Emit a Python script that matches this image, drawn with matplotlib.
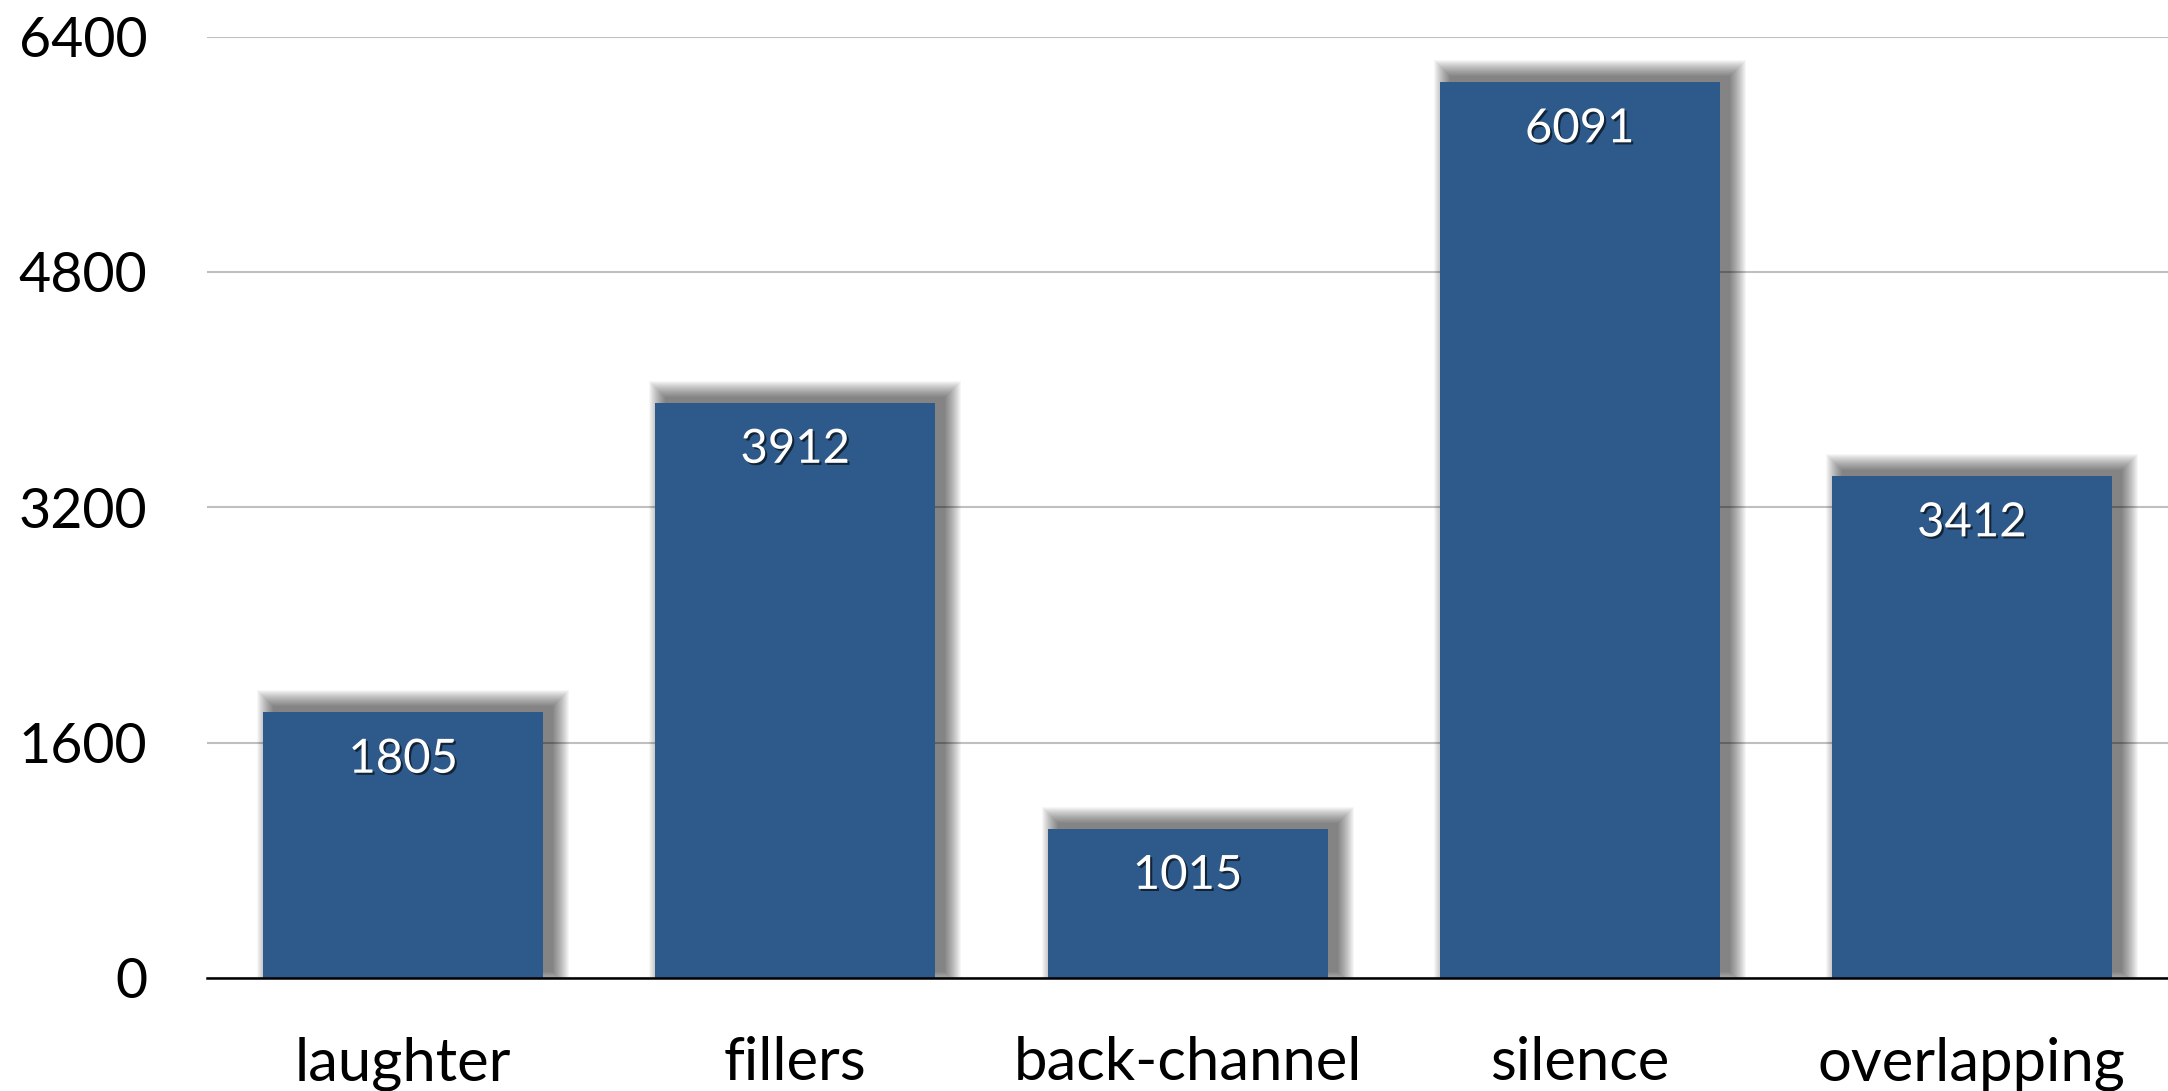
import numpy as np
import matplotlib.pyplot as plt
import matplotlib.patheffects as pe

categories = ['laughter', 'fillers', 'back-channel', 'silence', 'overlapping']
counts = np.array([1805, 3912, 1015, 6091, 3412])
yticks = [0, 1600, 3200, 4800, 6400]

plt.rcParams['font.family'] = ['Lato', 'DejaVu Sans']

fig = plt.figure(figsize=(21.68, 10.91), dpi=100)
ax = fig.add_axes([0.0955, 0.1036, 0.9045, 0.8628])

x = np.arange(len(categories))
w = 0.714
bar_color = '#2E5A8B'

ax.set_xlim(-0.5, 4.5)
ax.set_ylim(0, 6400)

# pixel sizes in data units, for the soft shadow
px = 5.0 / (0.9045 * 2168)
py = 6400 / (0.8628 * 1091)

# blurred drop shadow: stacked translucent rectangles, offset right and up
dx, dy = 10, 6
for s in np.linspace(16, 0, 17):
    ax.bar(x + dx * px, counts + 2 * s * py, width=w + 2 * s * px,
           bottom=dy * py - s * py, color='black', alpha=0.036,
           linewidth=0, zorder=1)

ax.bar(x, counts, width=w, color=bar_color, linewidth=0, zorder=2)

for xi, v in zip(x, counts):
    ax.annotate(str(v), (xi, v), xytext=(0, -34), textcoords='offset points',
                ha='center', va='center', color='white', fontsize=34, zorder=3,
                path_effects=[pe.SimplePatchShadow(offset=(1.5, -1.5), shadow_rgbFace='black', alpha=0.6),
                              pe.Normal()])

ax.set_yticks(yticks)
ax.set_yticklabels([str(t) for t in yticks], fontsize=40)
ax.set_xticks(x)
ax.set_xticklabels(categories, fontsize=43)
ax.tick_params(axis='both', length=0)
ax.tick_params(axis='y', pad=43)
ax.tick_params(axis='x', pad=42)

ax.grid(axis='y', color='#BFBFBF', linewidth=1.5, zorder=0)
ax.set_axisbelow(True)
for side in ['left', 'right', 'top']:
    ax.spines[side].set_visible(False)
ax.spines['bottom'].set_linewidth(1.8)
ax.spines['bottom'].set_color('black')
ax.spines['bottom'].set_zorder(4)

fig.savefig('out.png', dpi=100)
